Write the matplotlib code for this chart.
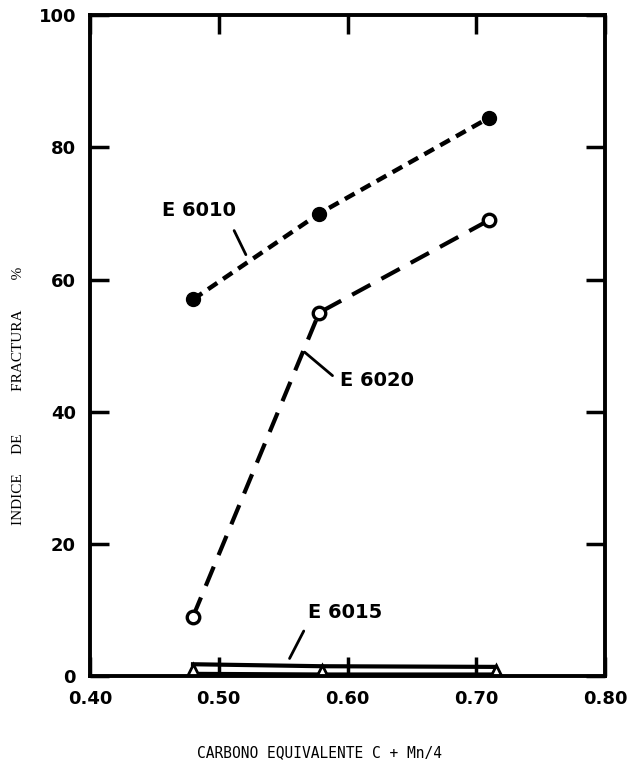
import matplotlib
matplotlib.use("Agg")
import matplotlib.pyplot as plt

# datos
carbono = [0.48, 0.578, 0.71]
e6010 = [57, 70, 84.5]
e6020 = [9, 55, 69]
e6015_x = [0.48, 0.58, 0.715]
e6015 = [0.9, 0.8, 0.8]
e6015_sup = [1.8, 1.5, 1.4]
e6015_inf = [0.4, 0.3, 0.3]

x_ticks = [0.40, 0.50, 0.60, 0.70, 0.80]
x_labels = ["0.40", "0.50", "0.60", "0.70", "0.80"]
y_ticks = [0, 20, 40, 60, 80, 100]

fig = plt.figure(figsize=(6.27, 7.64), dpi=100)
ax = fig.add_axes([0.1435, 0.115, 0.8215, 0.865])

ax.plot(carbono, e6010, color="black", linestyle=(0, (2.5, 1.6)), linewidth=3.2,
        marker="o", markersize=10, markerfacecolor="black")
ax.plot(carbono, e6020, color="black", linestyle=(0, (5, 3)), linewidth=3,
        marker="o", markersize=9, markerfacecolor="white", markeredgewidth=2.4)
ax.plot(e6015_x, e6015_sup, color="black", linewidth=3)
ax.plot(e6015_x, e6015_inf, color="black", linewidth=2.5)
ax.plot(e6015_x, e6015, color="none", marker="^", markersize=8,
        markerfacecolor="white", markeredgecolor="black", markeredgewidth=2)

txt = dict(fontsize=14, fontweight="bold", ha="center", va="center")
ax.text(0.485, 70.5, "E 6010", **txt)
ax.annotate("", xy=(0.522, 63.4), xytext=(0.511, 67.8),
            arrowprops=dict(arrowstyle="-", color="black", lw=2))
ax.text(0.623, 44.8, "E 6020", **txt)
ax.annotate("", xy=(0.565, 49.3), xytext=(0.59, 45.2),
            arrowprops=dict(arrowstyle="-", color="black", lw=2))
ax.text(0.598, 9.7, "E 6015", **txt)
ax.annotate("", xy=(0.554, 2.3), xytext=(0.567, 7.2),
            arrowprops=dict(arrowstyle="-", color="black", lw=2))

ax.set_xlim(0.40, 0.80)
ax.set_ylim(0, 100)
ax.set_xticks(x_ticks)
ax.set_xticklabels(x_labels)
ax.set_yticks(y_ticks)
ax.tick_params(direction="in", length=14, width=2.5, labelsize=13, pad=10)
ax.tick_params(axis="x", top=True)
ax.tick_params(axis="y", right=True)
for lab in ax.get_xticklabels() + ax.get_yticklabels():
    lab.set_fontweight("bold")
for s in ax.spines.values():
    s.set_linewidth(2.8)

ax.set_xlabel("CARBONO EQUIVALENTE C + Mn/4", family="DejaVu Sans Mono",
              fontsize=10.5)
ax.xaxis.set_label_coords(0.445, -0.104)
ax.set_ylabel("INDICE" + " " * 5 + "DE" + " " * 11 + "FRACTURA" + " " * 8 + "%",
              family="Liberation Serif", fontsize=11)
ax.yaxis.set_label_coords(-0.126, 0.424)

fig.savefig("out.png", dpi=100)
